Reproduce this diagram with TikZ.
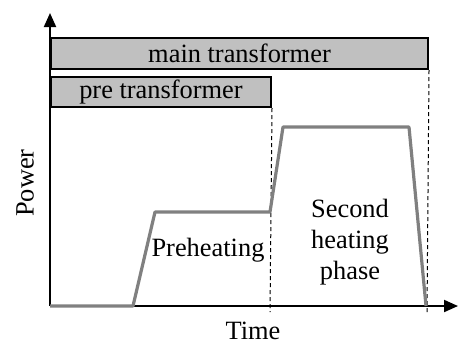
\documentclass[tikz,border=0pt]{standalone}
\usepackage{fontspec}
\setmainfont{Liberation Serif}
\usetikzlibrary{arrows.meta}
\definecolor{barfill}{RGB}{192,192,192}
\definecolor{curvegray}{RGB}{128,128,128}
\begin{document}
\begin{tikzpicture}[x=0.5pt,y=-0.5pt,
  lbl/.style={font=\fontsize{13.2}{15.5}\selectfont, inner sep=0pt, align=center},
  bar/.style={draw=black, line width=1pt, fill=barfill, inner sep=0pt, anchor=north west},
  axis/.style={line width=1pt, -{Triangle[length=7pt,width=6pt]}},
  guide/.style={line width=0.5pt, dash pattern=on 2pt off 1.5pt},
  curve/.style={draw=curvegray, line width=1.6pt, line join=round}]
\useasboundingbox (0,0) rectangle (458,344);
% axes
\coordinate (origin) at (50,306);
\coordinate (ytip) at (50,13);
\coordinate (xtip) at (458,306);
\draw[axis] (origin) -- (ytip);
\draw[axis] (origin) -- (xtip);
% bars
\node[bar, minimum width=188.5pt, minimum height=15.5pt] (main) at (50,37) {};
\node[lbl] at (main.center) {main transformer};
\node[bar, minimum width=110pt, minimum height=15pt] (pre) at (50,76) {};
\node[lbl] at (pre.center) {pre transformer};
% dashed guides
\coordinate (g1) at (270,312);
\coordinate (g2) at (427,312);
\draw[guide] (pre.south east) -- (g1);
\draw[guide] (main.south east) -- (g2);
% power curve
\draw[curve] (50,306) -- (133,306) -- (155,212) -- (270,212) -- (283,127) -- (409,127) -- (426,306);
% labels
\node[lbl] (preh) at (208,250) {Preheating};
\node[lbl] (second) at (350,242) {Second\\heating\\phase};
\node[lbl, rotate=90] (power) at (25,183) {Power};
\node[lbl] (time) at (253,331) {Time};
\end{tikzpicture}
\end{document}
